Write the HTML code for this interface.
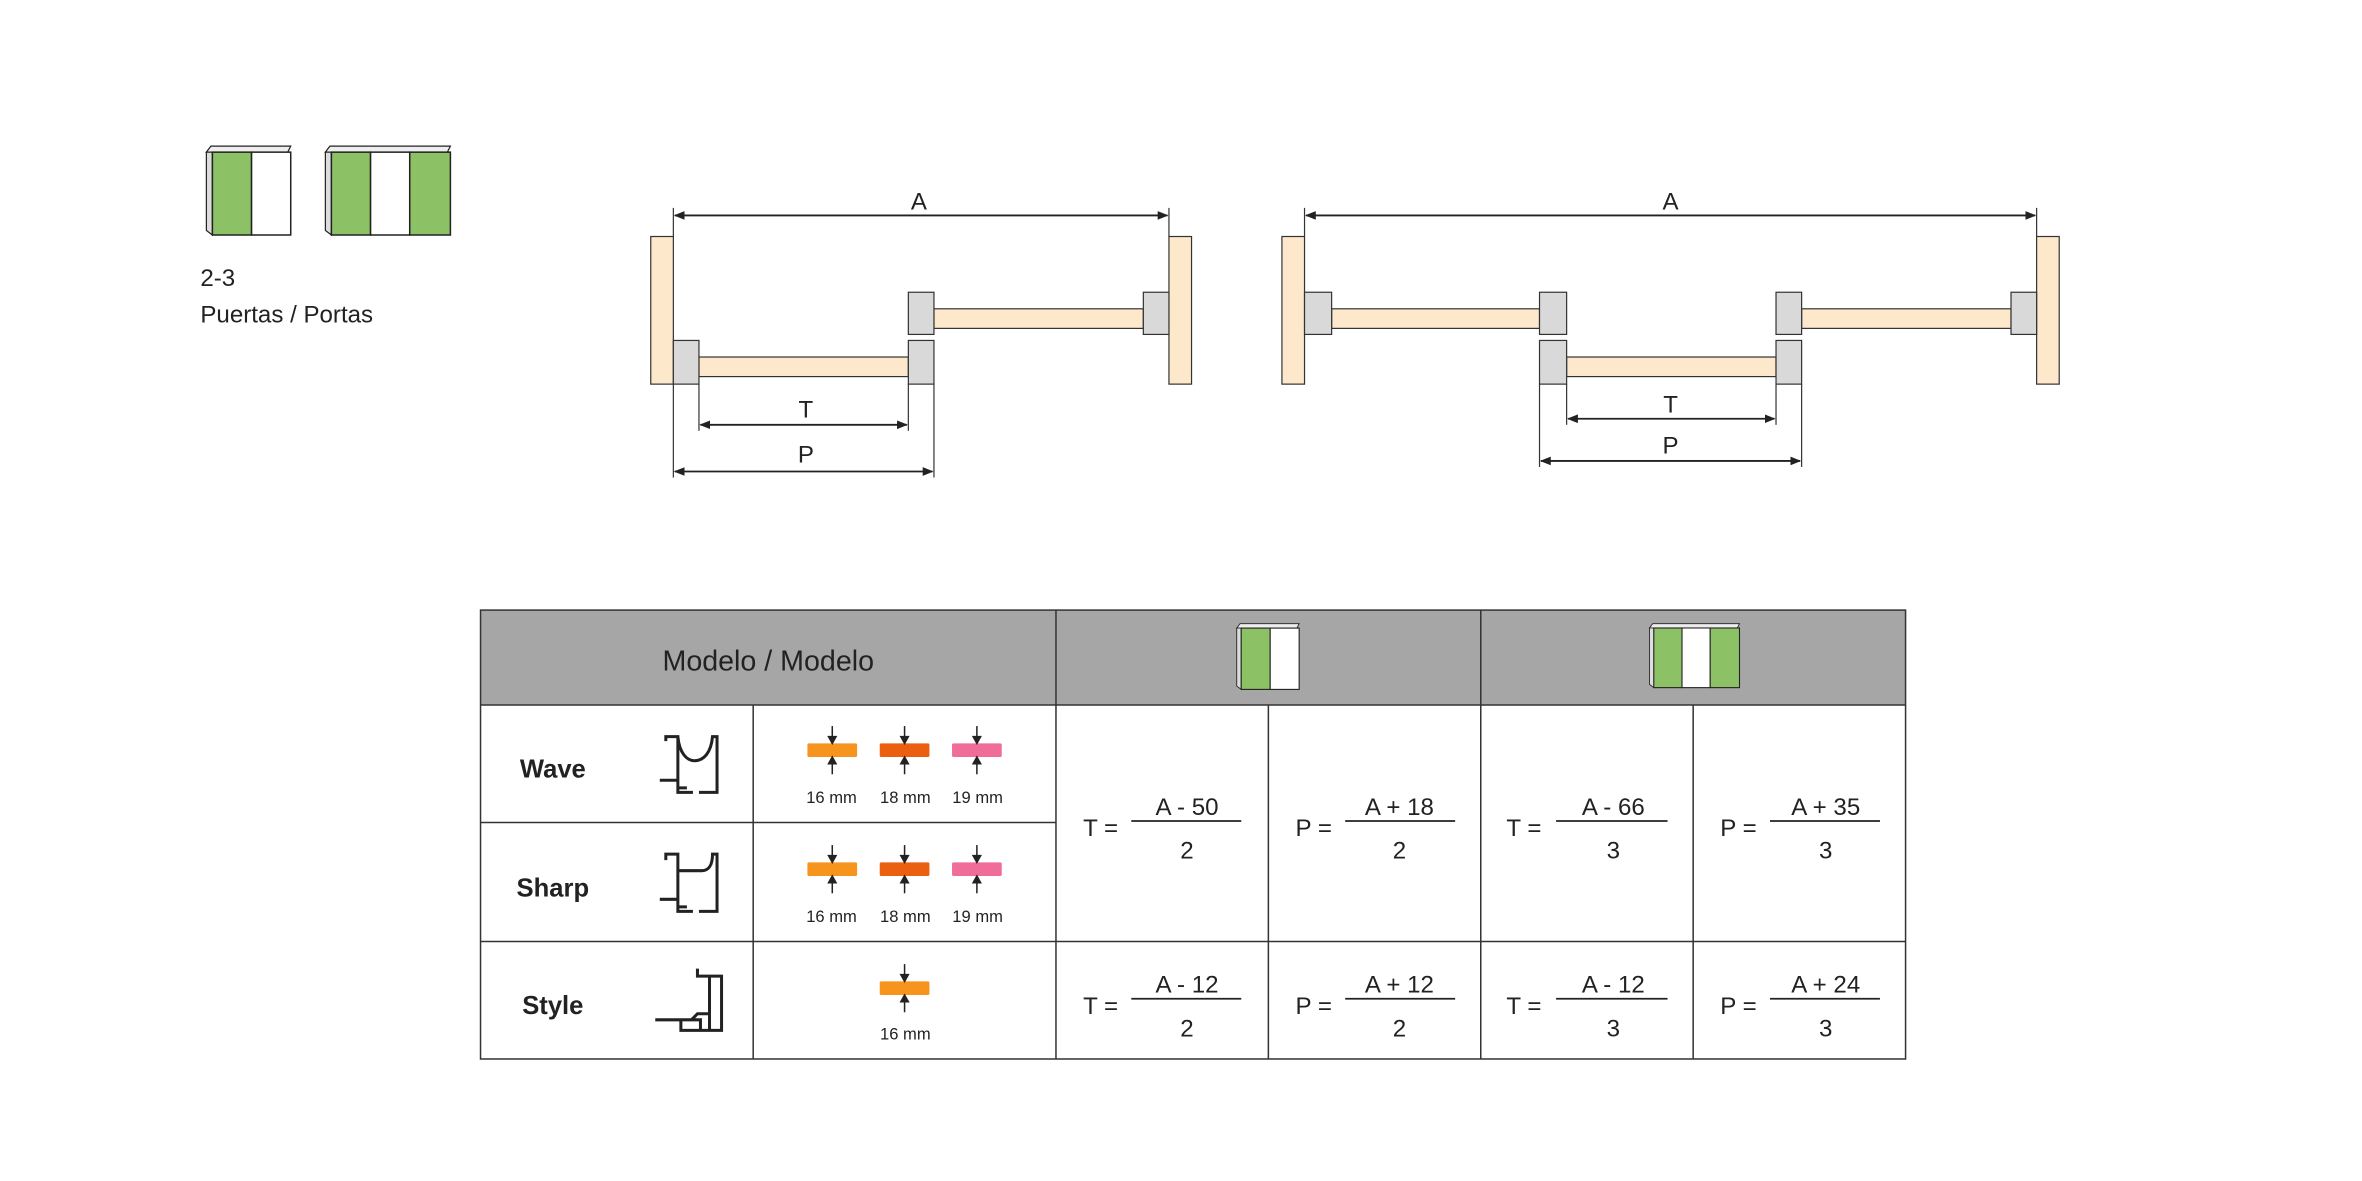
<!DOCTYPE html>
<html><head><meta charset="utf-8"><style>
html,body{margin:0;padding:0;background:#fff}
svg{display:block}
text{font-family:"Liberation Sans",sans-serif;fill:#222}
</style></head><body>
<svg width="2362" height="1181" viewBox="0 0 1568 784" xmlns="http://www.w3.org/2000/svg">
<defs>
<marker id="ar" viewBox="0 0 10 10" refX="9" refY="5" markerWidth="6" markerHeight="6" orient="auto-start-reverse"><path d="M0,1 L10,5 L0,9 z" fill="#222"/></marker>
<g id="i2">
<path d="M0,4 L3,0 L56,0 L54,4 z" fill="#eee" stroke="#222" stroke-width="0.8"/>
<path d="M0,4 L4,4 L4,59 L0,56 z" fill="#ddd" stroke="#222" stroke-width="0.8"/>
<rect x="4" y="4" width="26" height="55" fill="#8cc265" stroke="#222" stroke-width="1"/>
<rect x="30" y="4" width="26" height="55" fill="#fff" stroke="#222" stroke-width="1"/>
</g>
<g id="i3">
<path d="M0,4 L3,0 L83,0 L81,4 z" fill="#eee" stroke="#222" stroke-width="0.8"/>
<path d="M0,4 L4,4 L4,59 L0,56 z" fill="#ddd" stroke="#222" stroke-width="0.8"/>
<rect x="4" y="4" width="26" height="55" fill="#8cc265" stroke="#222" stroke-width="1"/>
<rect x="30" y="4" width="26" height="55" fill="#fff" stroke="#222" stroke-width="1"/>
<rect x="56" y="4" width="27" height="55" fill="#8cc265" stroke="#222" stroke-width="1"/>
</g>
<g id="sw"><rect x="0" y="-4.5" width="33" height="9" rx="1"/></g>
<g id="arr" stroke="#222" stroke-width="1" fill="#222">
<line x1="0" y1="-16" x2="0" y2="-7"/><path d="M-2.5,-9 L0,-4.5 L2.5,-9z"/>
<line x1="0" y1="16" x2="0" y2="7"/><path d="M-2.5,9 L0,4.5 L2.5,9z"/>
</g>
</defs>

<use href="#i2" x="137" y="97"/>
<use href="#i3" x="216" y="97"/>
<text x="133" y="190" font-size="16">2-3</text>
<text x="133" y="214" font-size="16">Puertas / Portas</text>

<g stroke="#333" stroke-width="0.8">
<line x1="447" y1="138" x2="447" y2="157"/><line x1="776" y1="138" x2="776" y2="157"/>
<line x1="464" y1="255" x2="464" y2="286"/><line x1="603" y1="255" x2="603" y2="286"/>
<line x1="447" y1="255" x2="447" y2="317"/><line x1="620" y1="255" x2="620" y2="317"/>
<rect x="432" y="157" width="15" height="98" fill="#fde8cc"/>
<rect x="776" y="157" width="15" height="98" fill="#fde8cc"/>
<rect x="464" y="237" width="139" height="13" fill="#fde8cc"/>
<rect x="447" y="226" width="17" height="29" fill="#d9d9d9"/>
<rect x="603" y="226" width="17" height="29" fill="#d9d9d9"/>
<rect x="620" y="205" width="139" height="13" fill="#fde8cc"/>
<rect x="603" y="194" width="17" height="28" fill="#d9d9d9"/>
<rect x="759" y="194" width="17" height="28" fill="#d9d9d9"/>
</g>
<g stroke="#222" stroke-width="1.2">
<line x1="448" y1="143" x2="775" y2="143" marker-start="url(#ar)" marker-end="url(#ar)"/>
<line x1="465" y1="282" x2="602" y2="282" marker-start="url(#ar)" marker-end="url(#ar)"/>
<line x1="448" y1="313" x2="619" y2="313" marker-start="url(#ar)" marker-end="url(#ar)"/>
</g>
<text x="610" y="139" font-size="16" text-anchor="middle">A</text>
<text x="535" y="277" font-size="16" text-anchor="middle">T</text>
<text x="535" y="307" font-size="16" text-anchor="middle">P</text>

<g stroke="#333" stroke-width="0.8">
<line x1="866" y1="138" x2="866" y2="157"/><line x1="1352" y1="138" x2="1352" y2="157"/>
<line x1="1040" y1="255" x2="1040" y2="282"/><line x1="1179" y1="255" x2="1179" y2="282"/>
<line x1="1022" y1="255" x2="1022" y2="310"/><line x1="1196" y1="255" x2="1196" y2="310"/>
<rect x="851" y="157" width="15" height="98" fill="#fde8cc"/>
<rect x="1352" y="157" width="15" height="98" fill="#fde8cc"/>
<rect x="884" y="205" width="138" height="13" fill="#fde8cc"/>
<rect x="866" y="194" width="18" height="28" fill="#d9d9d9"/>
<rect x="1022" y="194" width="18" height="28" fill="#d9d9d9"/>
<rect x="1196" y="205" width="139" height="13" fill="#fde8cc"/>
<rect x="1179" y="194" width="17" height="28" fill="#d9d9d9"/>
<rect x="1335" y="194" width="17" height="28" fill="#d9d9d9"/>
<rect x="1040" y="237" width="139" height="13" fill="#fde8cc"/>
<rect x="1022" y="226" width="18" height="29" fill="#d9d9d9"/>
<rect x="1179" y="226" width="17" height="29" fill="#d9d9d9"/>
</g>
<g stroke="#222" stroke-width="1.2">
<line x1="867" y1="143" x2="1351" y2="143" marker-start="url(#ar)" marker-end="url(#ar)"/>
<line x1="1041" y1="278" x2="1178" y2="278" marker-start="url(#ar)" marker-end="url(#ar)"/>
<line x1="1023" y1="306" x2="1195" y2="306" marker-start="url(#ar)" marker-end="url(#ar)"/>
</g>
<text x="1109" y="139" font-size="16" text-anchor="middle">A</text>
<text x="1109" y="274" font-size="16" text-anchor="middle">T</text>
<text x="1109" y="301" font-size="16" text-anchor="middle">P</text>

<rect x="319" y="405" width="946" height="63" fill="#a6a6a6"/>
<g stroke="#333" stroke-width="1" fill="none">
<rect x="319" y="405" width="946" height="298"/>
<line x1="319" y1="468" x2="1265" y2="468"/>
<line x1="319" y1="546" x2="701" y2="546"/>
<line x1="319" y1="625" x2="1265" y2="625"/>
<line x1="701" y1="405" x2="701" y2="703"/>
<line x1="983" y1="405" x2="983" y2="703"/>
<line x1="842" y1="468" x2="842" y2="703"/>
<line x1="1124" y1="468" x2="1124" y2="703"/>
<line x1="500" y1="468" x2="500" y2="703"/>
</g>
<text x="510" y="445" font-size="19" text-anchor="middle">Modelo / Modelo</text>
<use href="#i2" transform="translate(821,414) scale(0.74)"/>
<use href="#i3" transform="translate(1095,414) scale(0.72)"/>

<text x="367" y="516" font-size="17" font-weight="bold" text-anchor="middle">Wave</text>
<text x="367" y="595" font-size="17" font-weight="bold" text-anchor="middle">Sharp</text>
<text x="367" y="673" font-size="17" font-weight="bold" text-anchor="middle">Style</text>

<g stroke="#222" stroke-width="2" fill="none">
<path d="M442,492 L442,489 L450,489 L450,524 M450,489 C451,500 456,505 461,505 C467,505 472,500 473,489 L476,489 L476,526 L464,526 M460,526 L450,526 L450,523 L456,523 M438,518 L450,518"/>
<path d="M442,571 L442,567 L450,567 L450,603 M450,567 L450,578 L466,578 C470,578 473,575 473,567 L476,567 L476,605 L464,605 M460,605 L450,605 L450,602 L456,602 M438,597 L450,597"/>
<path d="M463,643 L463,648 L479,648 L479,684 L471,684 L471,648 M479,684 L452,684 L452,677 L465,677 L465,684 M435,677 L459,677 L463,673 L471,673"/>
</g>

<g>
<use href="#sw" x="536" y="498" fill="#f7941d"/><use href="#arr" x="552.5" y="498"/>
<use href="#sw" x="584" y="498" fill="#ea6010"/><use href="#arr" x="600.5" y="498"/>
<use href="#sw" x="632" y="498" fill="#ef6d98"/><use href="#arr" x="648.5" y="498"/>
<use href="#sw" x="536" y="577" fill="#f7941d"/><use href="#arr" x="552.5" y="577"/>
<use href="#sw" x="584" y="577" fill="#ea6010"/><use href="#arr" x="600.5" y="577"/>
<use href="#sw" x="632" y="577" fill="#ef6d98"/><use href="#arr" x="648.5" y="577"/>
<use href="#sw" x="584" y="656" fill="#f7941d"/><use href="#arr" x="600.5" y="656"/>
</g>
<g font-size="11" text-anchor="middle">
<text x="552" y="533">16 mm</text><text x="601" y="533">18 mm</text><text x="649" y="533">19 mm</text>
<text x="552" y="612">16 mm</text><text x="601" y="612">18 mm</text><text x="649" y="612">19 mm</text>
<text x="601" y="690">16 mm</text>
</g>

<g font-size="16">
<g stroke="#222" stroke-width="1.2">
<line x1="751" y1="545" x2="824" y2="545"/><line x1="893" y1="545" x2="966" y2="545"/>
<line x1="1033" y1="545" x2="1107" y2="545"/><line x1="1175" y1="545" x2="1248" y2="545"/>
<line x1="751" y1="663" x2="824" y2="663"/><line x1="893" y1="663" x2="966" y2="663"/>
<line x1="1033" y1="663" x2="1107" y2="663"/><line x1="1175" y1="663" x2="1248" y2="663"/>
</g>
<text x="719" y="555">T =</text><text x="788" y="541" text-anchor="middle">A - 50</text><text x="788" y="570" text-anchor="middle">2</text>
<text x="860" y="555">P =</text><text x="929" y="541" text-anchor="middle">A + 18</text><text x="929" y="570" text-anchor="middle">2</text>
<text x="1000" y="555">T =</text><text x="1071" y="541" text-anchor="middle">A - 66</text><text x="1071" y="570" text-anchor="middle">3</text>
<text x="1142" y="555">P =</text><text x="1212" y="541" text-anchor="middle">A + 35</text><text x="1212" y="570" text-anchor="middle">3</text>
<text x="719" y="673">T =</text><text x="788" y="659" text-anchor="middle">A - 12</text><text x="788" y="688" text-anchor="middle">2</text>
<text x="860" y="673">P =</text><text x="929" y="659" text-anchor="middle">A + 12</text><text x="929" y="688" text-anchor="middle">2</text>
<text x="1000" y="673">T =</text><text x="1071" y="659" text-anchor="middle">A - 12</text><text x="1071" y="688" text-anchor="middle">3</text>
<text x="1142" y="673">P =</text><text x="1212" y="659" text-anchor="middle">A + 24</text><text x="1212" y="688" text-anchor="middle">3</text>
</g>
</svg>
</body></html>
